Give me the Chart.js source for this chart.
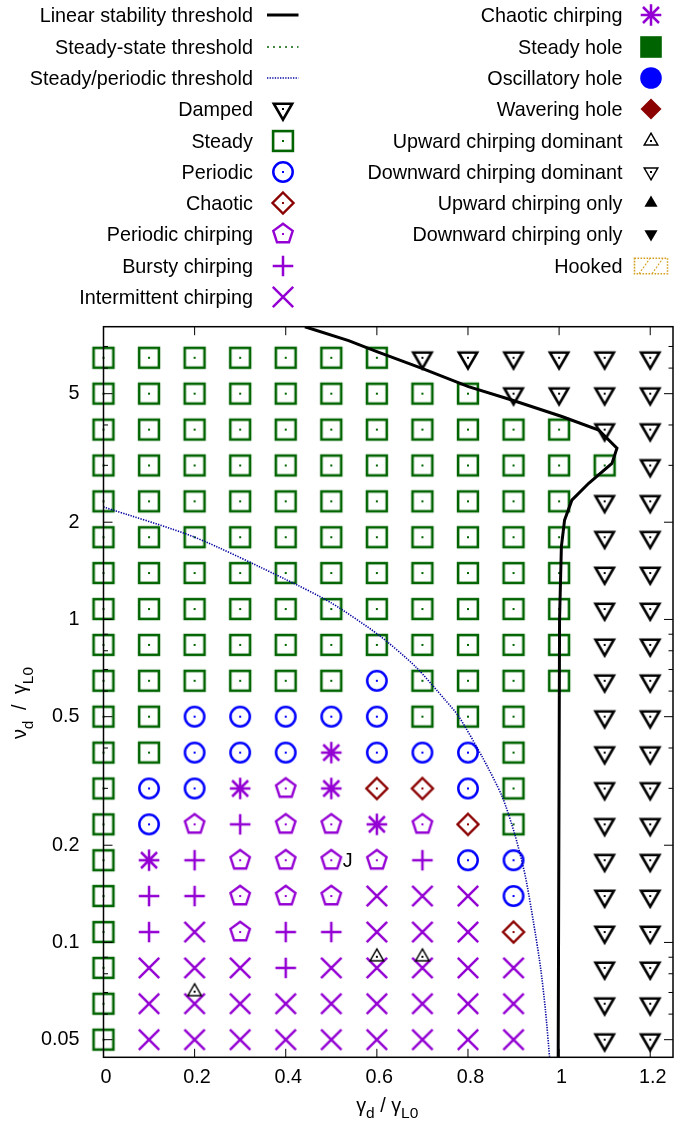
<!DOCTYPE html>
<html>
<head>
<meta charset="utf-8">
<script src="https://cdn.jsdelivr.net/npm/chart.js@4/dist/chart.umd.min.js"></script>
<style>
  html, body { margin: 0; padding: 0; background: #fff; }
  #wrap { width: 699px; height: 1126px; }
</style>
</head>
<body>
<div id="wrap"><canvas id="c" width="699" height="1126"></canvas></div>
<script>
const FONT = "'Liberation Sans', Arial, Helvetica, sans-serif";
const MAIN_SIZE = 19.8;
const SUB_SIZE = 15.5;

// damping rate (γd / γL0) of each column of runs
const gammaD = [0, 0.1, 0.2, 0.3, 0.4, 0.5, 0.6, 0.7, 0.8, 0.9, 1.0, 1.1, 1.2];
// collision rate (νd / γL0) of each row of runs, lowest first
const nuD = [0.05, 0.0646, 0.0834, 0.1077, 0.1392, 0.1797, 0.2321, 0.2997, 0.3871, 0.5,
             0.6458, 0.8342, 1.077, 1.392, 1.797, 2.321, 2.997, 3.871, 5.0, 6.458];

// regime of each run: one string per nuD row, one letter per gammaD column
// D damped, S steady, P periodic, C chaotic, T periodic chirping,
// B bursty chirping, I intermittent chirping, A chaotic chirping, - no run
const regimes = [
  'SIIIIIIIII-DD',
  'SIIIIIIIII-DD',
  'SIIIBIIIII-DD',
  'SBITBBIIIC-DD',
  'SBBTTTIIIP-DD',
  'SABTTTTBPP-DD',
  'SPTBTTATCS-DD',
  'SPPATACCPS-DD',
  'SSPPPAPPPS-DD',
  'SSPPPPPSSS-DD',
  'SSSSSSPSSSSDD',
  'SSSSSSSSSSSDD',
  'SSSSSSSSSSSDD',
  'SSSSSSSSSSSDD',
  'SSSSSSSSSSSDD',
  'SSSSSSSSSSSDD',
  'SSSSSSSSSSSSD',
  'SSSSSSSSSSSDD',
  'SSSSSSSSSDDDD',
  'SSSSSSSDDDDDD'
];

// runs where upward chirping dominates
const upDominantGamma = [0.2, 0.6, 0.7];
const upDominantNu = [0.0704, 0.0903, 0.0903];

// linear stability threshold
const stabilityGamma = [0.442, 0.538, 0.600, 0.699, 0.801, 0.896, 1.006, 1.087, 1.127, 1.116, 1.065, 1.028, 1.012, 1.005, 1.001, 0.998];
const stabilityNu = [8.06, 7.30, 6.75, 5.99, 5.26, 4.78, 4.25, 3.86, 3.39, 3.04, 2.64, 2.34, 2.03, 1.68, 1.0, 0.0441];

// steady / periodic threshold
const steadyPeriodicGamma = [0, 0.199, 0.400, 0.500, 0.604, 0.685, 0.750, 0.780, 0.831, 0.875, 0.904, 0.926, 0.944, 0.959, 0.970, 0.979];
const steadyPeriodicNu = [2.23, 1.80, 1.33, 1.125, 0.895, 0.714, 0.563, 0.500, 0.376, 0.283, 0.213, 0.160, 0.115, 0.0842, 0.0618, 0.0443];

// axis ticks
const xTicks = [0, 0.2, 0.4, 0.6, 0.8, 1, 1.2];
const yTicks = [0.05, 0.1, 0.2, 0.5, 1, 2, 5];
const yMinorTicks = [0.06, 0.07, 0.08, 0.09, 0.3, 0.4, 0.6, 0.7, 0.8, 0.9, 3, 4, 6, 7];

// text labels placed next to a run
const runNotes = [{ x: 0.5, y: 0.1797, text: 'J' }];

const GREEN = '#006400', BLUE = '#0000ff', DARKRED = '#8b0000', PURPLE = '#9400d3', BLACK = '#000000';

// ---------- marker glyphs ----------
function glyph(w, h, draw) {
  const c = document.createElement('canvas');
  c.width = w; c.height = h;
  const g = c.getContext('2d');
  g.translate(w / 2, h / 2);
  g.lineJoin = 'miter';
  draw(g);
  return c;
}
function centreDot(g, color) {
  g.fillStyle = color;
  g.fillRect(-1, -1, 2, 2);
}
function poly(g, pts) {
  g.beginPath();
  pts.forEach(([px, py], i) => (i ? g.lineTo(px, py) : g.moveTo(px, py)));
  g.closePath();
}
function triPts(r, down) {
  const s = down ? -1 : 1;
  return [[0, -s * r], [r * Math.sin(Math.PI / 3), s * r / 2], [-r * Math.sin(Math.PI / 3), s * r / 2]];
}

const glyphs = {
  damped: glyph(32, 32, g => { g.strokeStyle = BLACK; g.lineWidth = 2.6; poly(g, triPts(10.6, true)); g.stroke(); centreDot(g, BLACK); }),
  steady: glyph(32, 32, g => { g.strokeStyle = GREEN; g.lineWidth = 2.6; g.strokeRect(-9.9, -9.9, 19.8, 19.8); centreDot(g, GREEN); }),
  periodic: glyph(32, 32, g => { g.strokeStyle = BLUE; g.lineWidth = 2.5; g.beginPath(); g.arc(0, 0, 9.7, 0, Math.PI * 2); g.stroke(); centreDot(g, BLUE); }),
  chaotic: glyph(32, 32, g => { g.strokeStyle = DARKRED; g.lineWidth = 2.4; poly(g, [[0, -10.5], [10.5, 0], [0, 10.5], [-10.5, 0]]); g.stroke(); centreDot(g, DARKRED); }),
  pentagon: glyph(32, 32, g => {
    g.strokeStyle = PURPLE; g.lineWidth = 2.4;
    const pts = [];
    for (let k = 0; k < 5; k++) { const a = -Math.PI / 2 + k * 2 * Math.PI / 5; pts.push([10.2 * Math.cos(a), 10.2 * Math.sin(a)]); }
    poly(g, pts); g.stroke(); centreDot(g, PURPLE);
  }),
  plus: glyph(32, 32, g => { g.strokeStyle = PURPLE; g.lineWidth = 2.5; g.beginPath(); g.moveTo(-10.3, 0); g.lineTo(10.3, 0); g.moveTo(0, -10.3); g.lineTo(0, 10.3); g.stroke(); }),
  cross: glyph(32, 32, g => { g.strokeStyle = PURPLE; g.lineWidth = 2.5; g.beginPath(); g.moveTo(-10.2, -10.2); g.lineTo(10.2, 10.2); g.moveTo(10.2, -10.2); g.lineTo(-10.2, 10.2); g.stroke(); }),
  asterisk: glyph(32, 32, g => {
    g.strokeStyle = PURPLE; g.lineWidth = 2.5; g.beginPath();
    g.moveTo(-10.3, 0); g.lineTo(10.3, 0); g.moveTo(0, -10.8); g.lineTo(0, 10.8);
    g.moveTo(-8, -8); g.lineTo(8, 8); g.moveTo(8, -8); g.lineTo(-8, 8); g.stroke();
  }),
  steadyHole: glyph(32, 32, g => { g.fillStyle = GREEN; g.fillRect(-10.8, -10.8, 21.6, 21.6); }),
  oscHole: glyph(32, 32, g => { g.fillStyle = BLUE; g.beginPath(); g.arc(0, 0, 10.8, 0, Math.PI * 2); g.fill(); }),
  waverHole: glyph(32, 32, g => { g.fillStyle = DARKRED; poly(g, [[0, -10.5], [10.5, 0], [0, 10.5], [-10.5, 0]]); g.fill(); }),
  upDom: glyph(24, 24, g => { g.strokeStyle = BLACK; g.lineWidth = 1.5; poly(g, triPts(7.8, false)); g.stroke(); centreDot(g, BLACK); }),
  downDom: glyph(24, 24, g => { g.strokeStyle = BLACK; g.lineWidth = 1.5; poly(g, triPts(7.8, true)); g.stroke(); centreDot(g, BLACK); }),
  upOnly: glyph(24, 24, g => { g.fillStyle = BLACK; poly(g, triPts(7.6, false)); g.fill(); }),
  downOnly: glyph(24, 24, g => { g.fillStyle = BLACK; poly(g, triPts(7.6, true)); g.fill(); }),
  hooked: glyph(36, 18, g => {
    g.strokeStyle = '#d4a020'; g.lineWidth = 1.6; g.setLineDash([1.6, 1.4]);
    g.strokeRect(-16.5, -7.8, 33, 15.6);
    g.lineWidth = 1.1; g.setLineDash([2, 1.5]);
    g.beginPath(); g.moveTo(-12, 7.8); g.lineTo(-1, -7.8); g.moveTo(1, 7.8); g.lineTo(12, -7.8); g.stroke();
  })
};

// ---------- datasets ----------
function pointsFor(code) {
  const pts = [];
  regimes.forEach((row, i) => {
    for (let j = 0; j < row.length; j++) if (row[j] === code) pts.push({ x: gammaD[j], y: nuD[i] });
  });
  return pts;
}
function zipPts(xs, ys) { return xs.map((v, i) => ({ x: v, y: ys[i] })); }

function lineSet(label, xs, ys, color, width, dash, tension) {
  return { label, data: zipPts(xs, ys), showLine: true, borderColor: color, borderWidth: width,
           borderDash: dash, tension, pointRadius: 0, order: 0, fill: false };
}
function markSet(label, data, style, order) {
  return { label, data, showLine: false, pointStyle: style, pointRadius: 10, order: order || 1, clip: false };
}

const datasets = [
  // left key column
  lineSet('Linear stability threshold', stabilityGamma, stabilityNu, BLACK, 3, [], 0),
  lineSet('Steady-state threshold', [], [], GREEN, 1.5, [2, 4], 0),
  lineSet('Steady/periodic threshold', steadyPeriodicGamma, steadyPeriodicNu, '#0000a0', 1.6, [1.3, 1.3], 0.25),
  markSet('Damped', pointsFor('D'), glyphs.damped),
  markSet('Steady', pointsFor('S'), glyphs.steady),
  markSet('Periodic', pointsFor('P'), glyphs.periodic),
  markSet('Chaotic', pointsFor('C'), glyphs.chaotic),
  markSet('Periodic chirping', pointsFor('T'), glyphs.pentagon),
  markSet('Bursty chirping', pointsFor('B'), glyphs.plus),
  markSet('Intermittent chirping', pointsFor('I'), glyphs.cross),
  // right key column
  markSet('Chaotic chirping', pointsFor('A'), glyphs.asterisk),
  markSet('Steady hole', [], glyphs.steadyHole),
  markSet('Oscillatory hole', [], glyphs.oscHole),
  markSet('Wavering hole', [], glyphs.waverHole),
  markSet('Upward chirping dominant', zipPts(upDominantGamma, upDominantNu), glyphs.upDom, 0.5),
  markSet('Downward chirping dominant', [], glyphs.downDom),
  markSet('Upward chirping only', [], glyphs.upOnly),
  markSet('Downward chirping only', [], glyphs.downOnly),
  markSet('Hooked', [], glyphs.hooked)
];
const LEFT_COUNT = 10;

// ---------- plugins ----------
const keyPlugin = {
  id: 'keyPlugin',
  afterDraw(chart) {
    const ctx = chart.ctx;
    ctx.save();
    ctx.font = MAIN_SIZE + 'px ' + FONT;
    ctx.fillStyle = '#000';
    ctx.textAlign = 'right';
    ctx.textBaseline = 'alphabetic';
    chart.data.datasets.forEach((ds, i) => {
      const left = i < LEFT_COUNT;
      const row = left ? i : i - LEFT_COUNT;
      const yc = Math.round(15.3 + 31.3 * row);
      const textRight = left ? 253 : 622.5;
      const symX = left ? 283 : 651;
      ctx.fillText(ds.label, textRight, yc + 7.1);
      if (ds.showLine) {
        ctx.save();
        ctx.strokeStyle = ds.borderColor;
        ctx.lineWidth = ds.borderWidth;
        ctx.setLineDash(ds.borderDash || []);
        ctx.beginPath();
        ctx.moveTo(267, yc); ctx.lineTo(298.5, yc);
        ctx.stroke();
        ctx.restore();
      } else {
        const img = ds.pointStyle;
        ctx.drawImage(img, symX - img.width / 2, yc - img.height / 2);
      }
    });
    ctx.restore();
  }
};

const framePlugin = {
  id: 'framePlugin',
  afterDatasetsDraw(chart) {
    const { ctx, chartArea: a } = chart;
    const xs = chart.scales.x, ys = chart.scales.y;
    ctx.save();
    ctx.strokeStyle = '#000';
    ctx.lineWidth = 1;
    ctx.beginPath();
    xTicks.forEach(v => {
      const px = xs.getPixelForValue(v);
      ctx.moveTo(px, a.bottom); ctx.lineTo(px, a.bottom - 8.5);
      ctx.moveTo(px, a.top); ctx.lineTo(px, a.top + 8.5);
    });
    const yTick = (v, len) => {
      const py = ys.getPixelForValue(v);
      ctx.moveTo(a.left, py); ctx.lineTo(a.left + len, py);
      ctx.moveTo(a.right, py); ctx.lineTo(a.right - len, py);
    };
    yTicks.forEach(v => yTick(v, 9));
    yMinorTicks.forEach(v => yTick(v, 4.5));
    ctx.stroke();
    ctx.lineWidth = 1.5;
    ctx.strokeRect(a.left, a.top, a.right - a.left, a.bottom - a.top);

    // notes beside runs
    ctx.fillStyle = '#000';
    ctx.font = MAIN_SIZE + 'px ' + FONT;
    ctx.textAlign = 'left';
    ctx.textBaseline = 'alphabetic';
    runNotes.forEach(n => {
      ctx.fillText(n.text, xs.getPixelForValue(n.x) + 11.5, ys.getPixelForValue(n.y) + 7);
    });
    ctx.restore();
  }
};

// text runs with subscripts; a bare number is an extra gap in pixels
function drawRich(ctx, parts, cx, baseY) {
  const widths = parts.map(p => {
    if (typeof p[0] === 'number') return p[0];
    ctx.font = (p[1] ? SUB_SIZE : MAIN_SIZE) + 'px ' + FONT;
    return ctx.measureText(p[0]).width;
  });
  let x = cx - widths.reduce((s, w) => s + w, 0) / 2;
  parts.forEach((p, i) => {
    if (typeof p[0] !== 'number') {
      ctx.font = (p[1] ? SUB_SIZE : MAIN_SIZE) + 'px ' + FONT;
      ctx.fillText(p[0], x, baseY + (p[1] ? 6.5 : 0));
    }
    x += widths[i];
  });
}

const titlePlugin = {
  id: 'titlePlugin',
  afterDraw(chart) {
    const ctx = chart.ctx;
    const a = chart.chartArea;
    ctx.save();
    ctx.fillStyle = '#000';
    ctx.textAlign = 'left';
    ctx.textBaseline = 'alphabetic';
    drawRich(ctx, [['γ', 0], ['d', 1], [' / ', 0], ['γ', 0], ['L0', 1]], (a.left + a.right) / 2 - 1, 1111.5);
    ctx.translate(26, 703);
    ctx.rotate(-Math.PI / 2);
    drawRich(ctx, [['ν', 0], ['d', 1], [5], [' / ', 0], [5], ['γ', 0], ['L0', 1]], 0, 0);
    ctx.restore();
  }
};

new Chart(document.getElementById('c'), {
  type: 'scatter',
  data: { datasets },
  options: {
    responsive: false,
    devicePixelRatio: 1,
    animation: false,
    events: [],
    layout: { padding: { top: 326.7, right: 26, left: 0, bottom: 0 } },
    plugins: { legend: { display: false }, tooltip: { enabled: false } },
    scales: {
      x: {
        type: 'linear', min: 0, max: 1.25,
        grid: { display: false, drawTicks: false },
        border: { display: false },
        afterBuildTicks: s => { s.ticks = xTicks.map(v => ({ value: v })); },
        afterFit: s => { s.height = 1126 - 1057.3; },
        ticks: { autoSkip: false, maxRotation: 0, padding: 8, labelOffset: 2.5, color: '#000',
                 font: { family: FONT, size: MAIN_SIZE }, callback: v => String(v) }
      },
      y: {
        type: 'logarithmic', min: 0.0441, max: 8.06,
        grid: { display: false, drawTicks: false },
        border: { display: false },
        afterBuildTicks: s => { s.ticks = yTicks.map(v => ({ value: v })); },
        afterFit: s => { s.width = 103.5; },
        ticks: { autoSkip: false, padding: 24, color: '#000',
                 font: { family: FONT, size: MAIN_SIZE }, callback: v => String(v) }
      }
    }
  },
  plugins: [framePlugin, keyPlugin, titlePlugin]
});
</script>
</body>
</html>
